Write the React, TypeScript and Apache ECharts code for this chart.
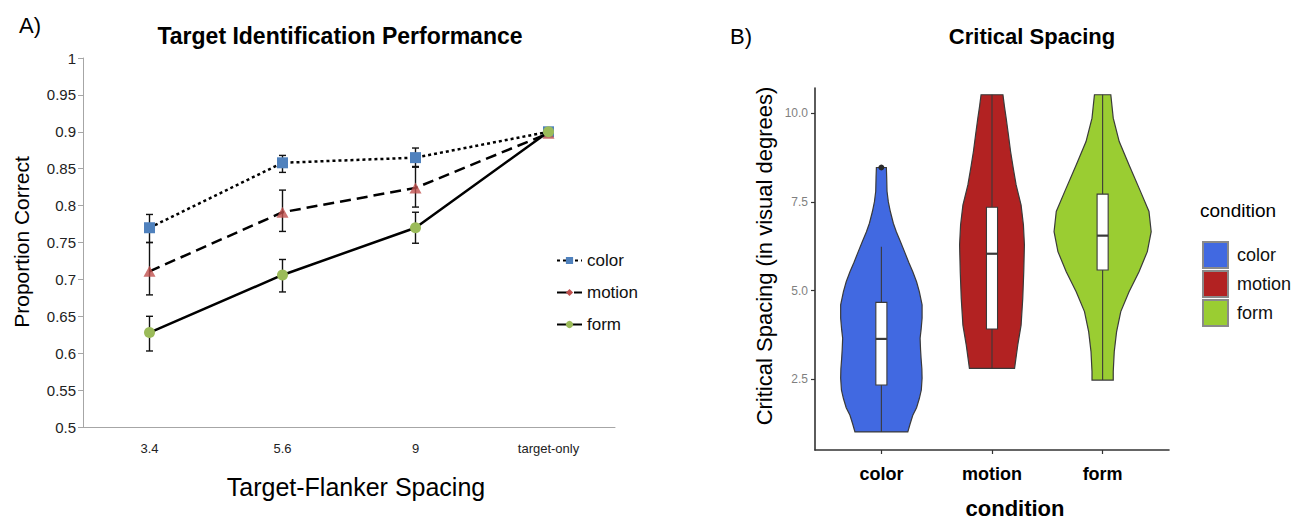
import React, { useEffect, useRef } from 'react';
import * as echarts from 'echarts';

// ---------- Panel A data ----------
const spacingCats = ['3.4', '5.6', '9', 'target-only'];
const colorMean = [0.770, 0.858, 0.865, 0.900];
const colorLow = [0.750, 0.845, 0.853, 0.900];
const colorHigh = [0.788, 0.868, 0.878, 0.900];
const motionMean = [0.711, 0.791, 0.824, 0.898];
const motionLow = [0.679, 0.765, 0.798, 0.898];
const motionHigh = [0.750, 0.821, 0.852, 0.898];
const formMean = [0.628, 0.706, 0.770, 0.900];
const formLow = [0.603, 0.683, 0.749, 0.900];
const formHigh = [0.650, 0.727, 0.791, 0.900];

// ---------- Panel B data ----------
const violinCats = ['color', 'motion', 'form'];
const violinColors = ['#4169E1', '#B22222', '#9ACD32'];
// [value, half-width in category units]
const colorProfile = [
  [8.47, 0.045], [8.2, 0.048], [7.8, 0.051], [7.5, 0.063], [7.23, 0.081], [6.9, 0.108],
  [6.66, 0.135], [6.4, 0.170], [6.1, 0.209], [5.8, 0.247], [5.53, 0.284], [5.25, 0.318],
  [4.97, 0.343], [4.6, 0.368], [4.22, 0.368], [3.9, 0.359], [3.66, 0.350], [3.35, 0.354],
  [3.09, 0.359], [2.8, 0.366], [2.53, 0.368], [2.2, 0.361], [1.96, 0.343], [1.7, 0.318],
  [1.49, 0.284], [1.25, 0.260], [1.02, 0.239],
];
const motionProfile = [
  [10.52, 0.099], [10.2, 0.112], [9.86, 0.128], [9.4, 0.148], [8.92, 0.168], [8.45, 0.192],
  [7.98, 0.218], [7.41, 0.263], [6.85, 0.284], [6.29, 0.293], [5.53, 0.287], [4.78, 0.278],
  [4.03, 0.263], [3.47, 0.233], [2.81, 0.204],
];
const formProfile = [
  [10.52, 0.074], [9.86, 0.096], [9.2, 0.150], [8.54, 0.239], [7.79, 0.343], [7.23, 0.419],
  [6.66, 0.439], [6.10, 0.404], [5.53, 0.329], [4.97, 0.239], [4.41, 0.164], [3.84, 0.126],
  [3.28, 0.105], [2.72, 0.096], [2.48, 0.096],
];
const profiles = [colorProfile, motionProfile, formProfile];
const boxQ1 = [2.34, 3.92, 5.58];
const boxMedian = [3.64, 6.04, 6.55];
const boxQ3 = [4.67, 7.35, 7.72];
const whiskerLow = [1.02, 2.79, 2.48];
const whiskerHigh = [6.24, 10.52, 10.52];
const outlierCat = [1];
const outlierValue = [8.47];
const yTicksB = [2.5, 5, 7.5, 10];

const FONT = "'Liberation Sans', Arial, Helvetica, sans-serif";

export default function App() {
  const ref = useRef<HTMLDivElement>(null);

  useEffect(() => {
    const chart = echarts.init(ref.current as HTMLDivElement, null, { renderer: 'svg' });

    const errSeries = (low: number[], high: number[]) => ({
      type: 'custom',
      xAxisIndex: 0,
      yAxisIndex: 0,
      z: 1,
      silent: true,
      data: low.map((l, i) => [i, l, high[i]]),
      renderItem: (params: any, api: any) => {
        const i = api.value(0);
        const lo = api.coord([i, api.value(1)]);
        const hi = api.coord([i, api.value(2)]);
        if (Math.abs(hi[1] - lo[1]) < 0.5) return null;
        const cw = 3.5;
        const st = { stroke: '#111', lineWidth: 1.4 };
        return {
          type: 'group',
          children: [
            { type: 'line', shape: { x1: lo[0], y1: lo[1], x2: hi[0], y2: hi[1] }, style: st },
            { type: 'line', shape: { x1: lo[0] - cw, y1: lo[1], x2: lo[0] + cw, y2: lo[1] }, style: st },
            { type: 'line', shape: { x1: hi[0] - cw, y1: hi[1], x2: hi[0] + cw, y2: hi[1] }, style: st },
          ],
        };
      },
    });

    const violinSeries = (idx: number) => ({
      type: 'custom',
      name: 'v_' + violinCats[idx],
      xAxisIndex: 1,
      yAxisIndex: 1,
      itemStyle: { color: violinColors[idx] },
      data: [[idx + 1, boxMedian[idx]]],
      renderItem: (params: any, api: any) => {
        const c = api.value(0);
        const prof = profiles[idx];
        const right = prof.map(([v, hw]) => api.coord([c + hw, v]));
        const left = prof.slice().reverse().map(([v, hw]) => api.coord([c - hw, v]));
        const pts = right.concat(left);
        const bw = 0.05;
        const q3 = api.coord([c - bw, boxQ3[idx]]);
        const q1 = api.coord([c + bw, boxQ1[idx]]);
        const medL = api.coord([c - bw, boxMedian[idx]]);
        const medR = api.coord([c + bw, boxMedian[idx]]);
        const wTop = api.coord([c, whiskerHigh[idx]]);
        const wBot = api.coord([c, whiskerLow[idx]]);
        const outline = '#3a3a3a';
        const children: any[] = [
          {
            type: 'polygon',
            shape: { points: pts },
            style: { fill: violinColors[idx], stroke: outline, lineWidth: 1.2 },
          },
          { type: 'line', shape: { x1: wTop[0], y1: wTop[1], x2: wTop[0], y2: q3[1] }, style: { stroke: outline, lineWidth: 1.1 } },
          { type: 'line', shape: { x1: wBot[0], y1: q1[1], x2: wBot[0], y2: wBot[1] }, style: { stroke: outline, lineWidth: 1.1 } },
          {
            type: 'rect',
            shape: { x: q3[0], y: q3[1], width: q1[0] - q3[0], height: q1[1] - q3[1] },
            style: { fill: '#ffffff', stroke: outline, lineWidth: 1.1 },
          },
          { type: 'line', shape: { x1: medL[0], y1: medL[1], x2: medR[0], y2: medR[1] }, style: { stroke: outline, lineWidth: 2.2 } },
        ];
        outlierCat.forEach((oc, k) => {
          if (oc === idx + 1) {
            const p = api.coord([oc, outlierValue[k]]);
            children.push({ type: 'circle', shape: { cx: p[0], cy: p[1], r: 3 }, style: { fill: '#2a2a2a' } });
          }
        });
        return { type: 'group', children };
      },
    });

    const option: any = {
      animation: false,
      textStyle: { fontFamily: FONT },
      grid: [
        { left: 83, top: 58, width: 532, height: 369 },
        { left: 815, top: 88, width: 354, height: 362 },
      ],
      xAxis: [
        {
          type: 'category',
          gridIndex: 0,
          data: spacingCats,
          boundaryGap: true,
          axisLine: { lineStyle: { color: '#a6a6a6', width: 1 } },
          axisTick: { show: false },
          axisLabel: { fontSize: 13, color: '#222', margin: 15, fontFamily: FONT },
        },
        {
          type: 'value',
          gridIndex: 1,
          min: 0.4,
          max: 3.6,
          splitLine: { show: false },
          axisLine: { show: true, lineStyle: { color: '#333', width: 1.6 } },
          axisTick: { show: true, customValues: [1, 2, 3], length: 4, lineStyle: { color: '#333', width: 1.2 } },
          axisLabel: {
            customValues: [1, 2, 3],
            formatter: (v: number) => violinCats[Math.round(v) - 1],
            fontSize: 18,
            fontWeight: 'bold',
            color: '#000',
            margin: 15,
            fontFamily: FONT,
          },
        },
      ],
      yAxis: [
        {
          type: 'value',
          gridIndex: 0,
          min: 0.5,
          max: 1,
          interval: 0.05,
          splitLine: { show: false },
          axisLine: { show: true, lineStyle: { color: '#a6a6a6', width: 1 } },
          axisTick: { show: true, length: 5, lineStyle: { color: '#a6a6a6' } },
          axisLabel: {
            fontSize: 15,
            color: '#222',
            margin: 7,
            fontFamily: FONT,
            formatter: (v: number) => String(+v.toFixed(2)),
          },
        },
        {
          type: 'value',
          gridIndex: 1,
          min: 0.51,
          max: 10.71,
          splitLine: { show: false },
          axisLine: { show: true, lineStyle: { color: '#333', width: 1.6 } },
          axisTick: { show: true, customValues: yTicksB, length: 4, lineStyle: { color: '#333', width: 1.2 } },
          axisLabel: {
            customValues: yTicksB,
            formatter: (v: number) => v.toFixed(1),
            fontSize: 12,
            color: '#7f7f7f',
            margin: 7,
            fontFamily: FONT,
          },
        },
      ],
      legend: [
        {
          data: [{ name: 'color' }, { name: 'motion', itemStyle: { opacity: 1 } }, { name: 'form' }],
          orient: 'vertical',
          left: 551,
          top: 247,
          itemWidth: 25,
          itemHeight: 9,
          itemGap: 15,
          textStyle: { fontSize: 17, color: '#111', fontFamily: FONT },
        },
        {
          data: ['v_color', 'v_motion', 'v_form'],
          formatter: (n: string) => n.slice(2),
          orient: 'vertical',
          left: 1197,
          top: 236,
          icon: 'rect',
          itemWidth: 25,
          itemHeight: 26,
          itemGap: 1,
          itemStyle: { borderColor: '#8a8a8a', borderWidth: 2 },
          textStyle: { fontSize: 18, color: '#111', padding: [0, 0, 0, 4], fontFamily: FONT },
        },
      ],
      graphic: [
        { type: 'text', x: 30, y: 25, style: { text: 'A)', fontSize: 22, fill: '#000', align: 'center', verticalAlign: 'middle', fontFamily: FONT } },
        { type: 'text', x: 340, y: 36, style: { text: 'Target Identification Performance', fontSize: 23, fontWeight: 'bold', fill: '#000', align: 'center', verticalAlign: 'middle', fontFamily: FONT } },
        { type: 'text', x: 21, y: 242, rotation: Math.PI / 2, style: { text: 'Proportion Correct', fontSize: 21, fill: '#000', align: 'center', verticalAlign: 'middle', fontFamily: FONT } },
        { type: 'text', x: 356, y: 487, style: { text: 'Target-Flanker Spacing', fontSize: 25, fill: '#000', align: 'center', verticalAlign: 'middle', fontFamily: FONT } },
        { type: 'text', x: 741, y: 36, style: { text: 'B)', fontSize: 22, fill: '#000', align: 'center', verticalAlign: 'middle', fontFamily: FONT } },
        { type: 'text', x: 1032, y: 36, style: { text: 'Critical Spacing', fontSize: 22, fontWeight: 'bold', fill: '#000', align: 'center', verticalAlign: 'middle', fontFamily: FONT } },
        { type: 'text', x: 764, y: 256, rotation: Math.PI / 2, style: { text: 'Critical Spacing (in visual degrees)', fontSize: 22, fill: '#000', align: 'center', verticalAlign: 'middle', fontFamily: FONT } },
        { type: 'text', x: 1015, y: 508, style: { text: 'condition', fontSize: 22, fontWeight: 'bold', fill: '#000', align: 'center', verticalAlign: 'middle', fontFamily: FONT } },
        { type: 'text', x: 1200, y: 210, style: { text: 'condition', fontSize: 19, fill: '#000', align: 'left', verticalAlign: 'middle', fontFamily: FONT } },
      ],
      series: [
        errSeries(colorLow, colorHigh),
        errSeries(motionLow, motionHigh),
        errSeries(formLow, formHigh),
        {
          type: 'line',
          name: 'color',
          xAxisIndex: 0,
          yAxisIndex: 0,
          data: colorMean,
          symbol: 'rect',
          symbolSize: 11,
          z: 3,
          itemStyle: { color: '#4F81BD' },
          lineStyle: { color: '#000', width: 2.5, type: [3, 3] },
        },
        {
          // dashed line; its own (diamond) symbol is only shown in the legend
          type: 'line',
          name: 'motion',
          xAxisIndex: 0,
          yAxisIndex: 0,
          data: motionMean,
          symbol: 'diamond',
          symbolSize: 11,
          z: 3,
          itemStyle: { color: '#C0504D', opacity: 0 },
          lineStyle: { color: '#000', width: 2.5, type: [11, 6], opacity: 1 },
        },
        {
          // triangle markers for motion drawn on the plot
          type: 'scatter',
          xAxisIndex: 0,
          yAxisIndex: 0,
          data: motionMean,
          symbol: 'triangle',
          symbolSize: [12, 11],
          z: 3,
          silent: true,
          itemStyle: { color: '#C0504D' },
        },
        {
          type: 'line',
          name: 'form',
          xAxisIndex: 0,
          yAxisIndex: 0,
          data: formMean,
          symbol: 'circle',
          symbolSize: 11,
          z: 4,
          itemStyle: { color: '#9BBB59' },
          lineStyle: { color: '#000', width: 2.5 },
        },
        violinSeries(0),
        violinSeries(1),
        violinSeries(2),
      ],
    };

    chart.setOption(option);
    return () => chart.dispose();
  }, []);

  return (
    <div
      ref={ref}
      style={{ position: 'fixed', left: 0, top: 0, width: 1298, height: 521, background: '#fff' }}
    />
  );
}
